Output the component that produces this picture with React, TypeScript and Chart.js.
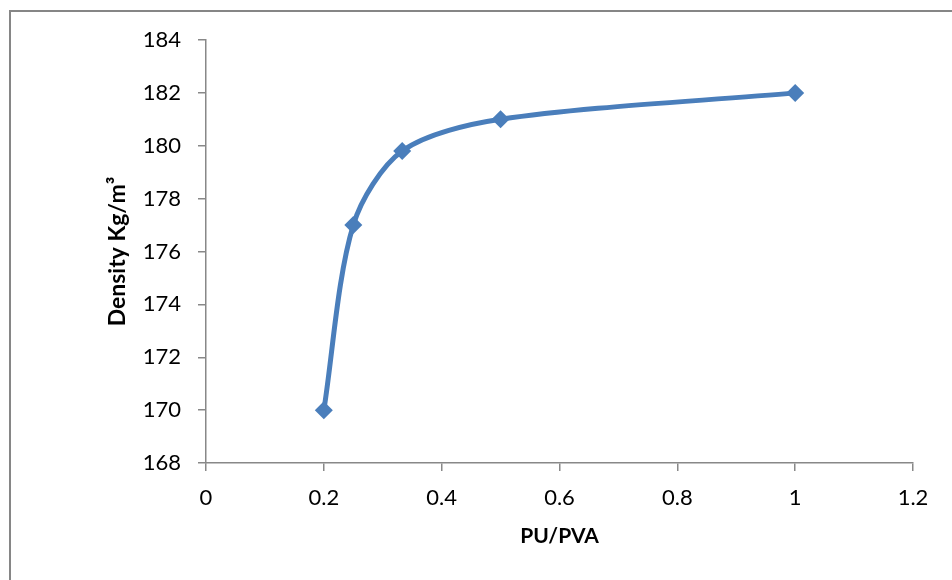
import React, { useEffect, useRef } from "react";
import { Chart, registerables } from "chart.js";

Chart.register(...registerables);

const xValues = [0.2, 0.25, 0.333, 0.5, 1];
const densityValues = [170, 177, 179.8, 181, 182];
const xTitle = "PU/PVA";
const yTitle = "Density Kg/m³";
const xRange = { min: 0, max: 1.2, step: 0.2 };
const yRange = { min: 168, max: 184, step: 2 };

const AXIS_COLOR = "#888888";
const SERIES_COLOR = "#4A7EBB";

const framePlugin = {
  id: "frame",
  beforeDraw(chart: any) {
    const ctx = chart.ctx;
    ctx.save();
    ctx.fillStyle = "#ffffff";
    ctx.fillRect(0, 0, chart.width, chart.height);
    ctx.strokeStyle = "#868686";
    ctx.lineWidth = 2;
    ctx.strokeRect(10, 11, 2000, 2000);
    ctx.restore();
  },
};

export default function App() {
  const ref = useRef<HTMLCanvasElement | null>(null);

  useEffect(() => {
    if (!ref.current) return;
    const chart = new Chart(ref.current, {
      type: "scatter",
      data: {
        datasets: [
          {
            label: "Density",
            data: xValues.map((x, i) => ({ x, y: densityValues[i] })),
            showLine: true,
            borderColor: SERIES_COLOR,
            backgroundColor: SERIES_COLOR,
            borderWidth: 5,
            tension: 0.3,
            pointStyle: "rectRot",
            pointRadius: 9,
            pointHoverRadius: 9,
            pointBorderWidth: 0,
            clip: false,
          } as any,
        ],
      },
      options: {
        responsive: false,
        animation: false,
        layout: { padding: { left: 100, top: 40, right: 39, bottom: 0 } },
        plugins: {
          legend: { display: false },
          tooltip: { enabled: false },
        },
        scales: {
          x: {
            type: "linear",
            min: xRange.min,
            max: xRange.max,
            afterFit: (s: any) => {
              s.height = 117;
            },
            ticks: {
              stepSize: xRange.step,
              color: "#000000",
              font: { family: "Lato", size: 22 },
              padding: 14,
              callback: (v: any) => String(Number(Number(v).toFixed(1))),
            },
            grid: {
              drawOnChartArea: false,
              drawTicks: true,
              tickLength: 8,
              color: AXIS_COLOR,
              lineWidth: 1.5,
            },
            border: { display: true, color: AXIS_COLOR, width: 1.5 },
            title: {
              display: true,
              text: xTitle,
              color: "#000000",
              font: { family: "Lato", size: 21, weight: "bold" },
              padding: { top: 0, bottom: 31 },
            },
          },
          y: {
            type: "linear",
            min: yRange.min,
            max: yRange.max,
            afterFit: (s: any) => {
              s.width = 106;
            },
            ticks: {
              stepSize: yRange.step,
              color: "#000000",
              font: { family: "Lato", size: 22 },
              padding: 17,
            },
            grid: {
              drawOnChartArea: false,
              drawTicks: true,
              tickLength: 8,
              color: AXIS_COLOR,
              lineWidth: 1.5,
            },
            border: { display: true, color: AXIS_COLOR, width: 1.5 },
            title: {
              display: true,
              text: yTitle,
              color: "#000000",
              font: { family: "Lato", size: 23, weight: "bold" },
              padding: { top: 4, bottom: 0 },
            },
          },
        },
      },
      plugins: [framePlugin],
    });
    return () => chart.destroy();
  }, []);

  return (
    <div style={{ position: "fixed", left: 0, top: 0, width: 952, height: 580, background: "#fff" }}>
      <canvas ref={ref} width={952} height={580} style={{ display: "block" }} />
    </div>
  );
}
